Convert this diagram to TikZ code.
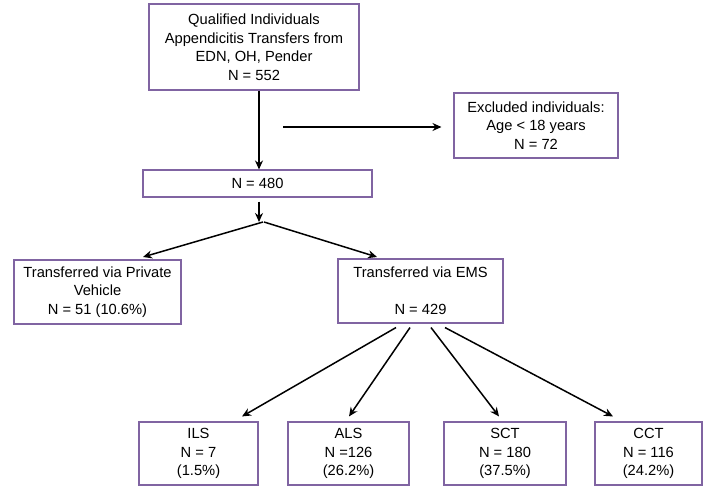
\documentclass[tikz,border=0pt]{standalone}
\usepackage{fontspec}
\setmainfont{Liberation Sans}
\usetikzlibrary{arrows.meta}
\definecolor{boxline}{RGB}{128,100,162}

\begin{document}
\begin{tikzpicture}[x=1pt,y=-1pt,
    box/.style={draw=boxline,line width=1.1pt,align=center,inner sep=0pt,
      font=\fontsize{14.7}{18.5}\selectfont},
    arr/.style={line width=1.5pt,-{Stealth[length=9pt,width=8pt]}}]
  \useasboundingbox (0,0) rectangle (703,486);

  % boxes
  \node[box,minimum width=210,minimum height=86] (total) at (254,47)
    {Qualified Individuals\\Appendicitis Transfers from\\EDN, OH, Pender\\N = 552};
  \node[box,minimum width=164,minimum height=65] (excl) at (536,125.5)
    {Excluded individuals:\\Age < 18 years\\N = 72};
  \node[box,minimum width=229,minimum height=27] (kept) at (257.5,183.5) {N = 480};
  \node[box,minimum width=167,minimum height=64] (priv) at (97.5,292)
    {Transferred via Private\\Vehicle\\N = 51 (10.6\%)};
  \node[box,minimum width=165,minimum height=64] (ems) at (420.5,291)
    {Transferred via EMS\\[18.5pt]N = 429};

  % EMS levels
  \node[box,minimum width=119,minimum height=63] (ils) at (198.5,453.5) {ILS\\N = 7\\(1.5\%)};
  \node[box,minimum width=121,minimum height=63] (als) at (348.5,453.5) {ALS\\N =126\\(26.2\%)};
  \node[box,minimum width=122,minimum height=63] (sct) at (505,453.5) {SCT\\N = 180\\(37.5\%)};
  \node[box,minimum width=107,minimum height=63] (cct) at (648.5,453.5) {CCT\\N = 116\\(24.2\%)};

  % arrow ends
  \coordinate (exfrom) at (283,127);
  \coordinate (split) at (259,222);
  \coordinate (privtip) at (143,257);
  \coordinate (emstip) at (377,257);

  \draw[arr] (total.south -| split) -- (kept.north -| split);
  \draw[arr] (exfrom) -- (exfrom -| excl.west) [shorten >=12pt];
  \draw[arr] (kept.south -| split) ++(0,4) -- (split);
  \draw[arr] ([xshift=4pt]split) -- (privtip);
  \draw[arr] ([xshift=5pt]split) -- (emstip);

  \draw[arr] ([xshift=-24.5pt,yshift=-4pt]ems.south) -- ([xshift=43.5pt,yshift=5pt]ils.north);
  \draw[arr] ([xshift=-10.5pt,yshift=-4pt]ems.south) -- ([xshift=0.5pt,yshift=5pt]als.north);
  \draw[arr] ([xshift=10.5pt,yshift=-4pt]ems.south) -- ([xshift=-6pt,yshift=5pt]sct.north);
  \draw[arr] ([xshift=24.5pt,yshift=-4pt]ems.south) -- ([xshift=-35.5pt,yshift=5pt]cct.north);
\end{tikzpicture}
\end{document}
